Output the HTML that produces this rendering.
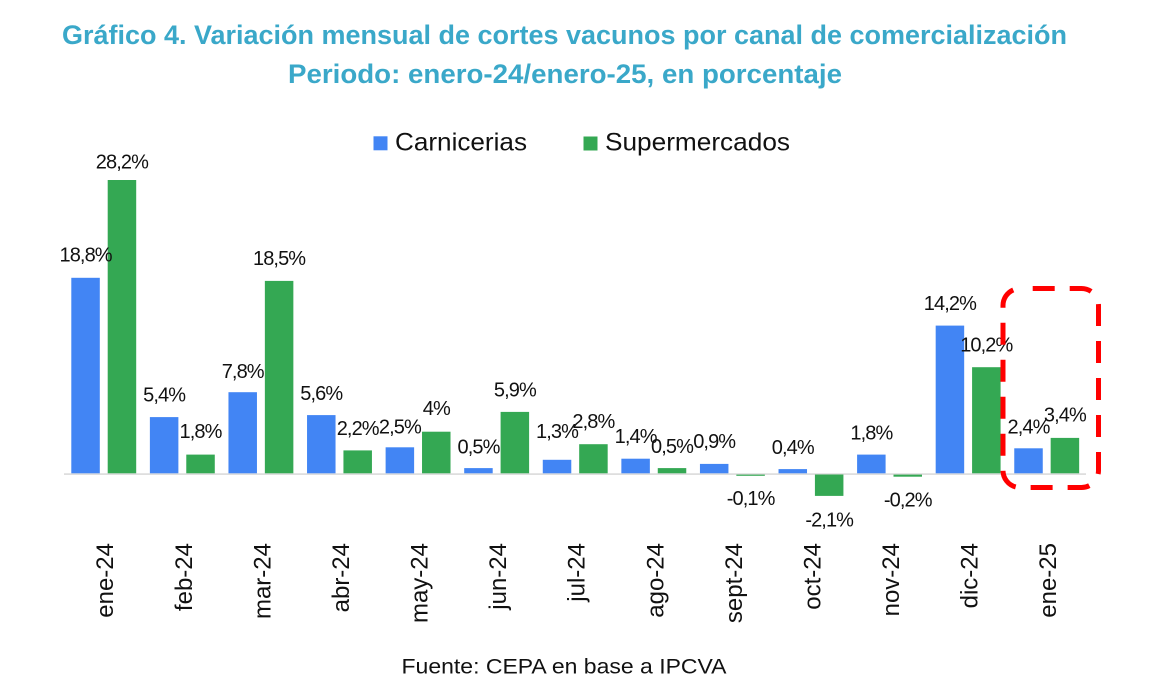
<!DOCTYPE html>
<html>
<head>
<meta charset="utf-8">
<style>
  html,body{margin:0;padding:0;background:#ffffff;}
  svg{display:block;}
  .t{font-family:"Liberation Sans",Arial,sans-serif;}
</style>
</head>
<body>
<svg width="1150" height="693" viewBox="0 0 1150 693" xmlns="http://www.w3.org/2000/svg">
  <rect x="0" y="0" width="1150" height="693" fill="#ffffff"/>

  <!-- Title -->
  <text class="t" x="62" y="44" font-size="27" font-weight="bold" fill="#3aa8c9" textLength="1005" lengthAdjust="spacingAndGlyphs">Gráfico 4. Variación mensual de cortes vacunos por canal de comercialización</text>
  <text class="t" x="288" y="83" font-size="27" font-weight="bold" fill="#3aa8c9" textLength="554" lengthAdjust="spacingAndGlyphs">Periodo: enero-24/enero-25, en porcentaje</text>

  <!-- Legend -->
  <rect x="373.5" y="136.3" width="14" height="14" fill="#4285f4"/>
  <text class="t" x="395" y="150.5" font-size="25" fill="#111" textLength="132" lengthAdjust="spacingAndGlyphs">Carnicerias</text>
  <rect x="583.5" y="136.5" width="14" height="14" fill="#34a853"/>
  <text class="t" x="605" y="150.7" font-size="25" fill="#111" textLength="185" lengthAdjust="spacingAndGlyphs">Supermercados</text>

  <!-- Axis line -->
  <rect x="64" y="473.3" width="1022" height="1.6" fill="#dadada"/>

  <!-- Bars -->
  <g>
    <!-- ene-24 cx=103.7 -->
    <rect x="71.3" y="277.8" width="28.5" height="195.5" fill="#4285f4"/>
    <rect x="107.7" y="180" width="28.5" height="293.3" fill="#34a853"/>
    <!-- feb-24 cx=182.28 -->
    <rect x="149.88" y="417.1" width="28.5" height="56.2" fill="#4285f4"/>
    <rect x="186.28" y="454.6" width="28.5" height="18.7" fill="#34a853"/>
    <!-- mar-24 cx=260.86 -->
    <rect x="228.46" y="392.2" width="28.5" height="81.1" fill="#4285f4"/>
    <rect x="264.86" y="280.9" width="28.5" height="192.4" fill="#34a853"/>
    <!-- abr-24 cx=339.44 -->
    <rect x="307.04" y="415.1" width="28.5" height="58.2" fill="#4285f4"/>
    <rect x="343.44" y="450.4" width="28.5" height="22.9" fill="#34a853"/>
    <!-- may-24 cx=418.02 -->
    <rect x="385.62" y="447.3" width="28.5" height="26" fill="#4285f4"/>
    <rect x="422.02" y="431.7" width="28.5" height="41.6" fill="#34a853"/>
    <!-- jun-24 cx=496.6 -->
    <rect x="464.2" y="468.1" width="28.5" height="5.2" fill="#4285f4"/>
    <rect x="500.6" y="411.9" width="28.5" height="61.4" fill="#34a853"/>
    <!-- jul-24 cx=575.18 -->
    <rect x="542.78" y="459.8" width="28.5" height="13.5" fill="#4285f4"/>
    <rect x="579.18" y="444.2" width="28.5" height="29.1" fill="#34a853"/>
    <!-- ago-24 cx=653.76 -->
    <rect x="621.36" y="458.7" width="28.5" height="14.6" fill="#4285f4"/>
    <rect x="657.76" y="468.1" width="28.5" height="5.2" fill="#34a853"/>
    <!-- sept-24 cx=732.34 -->
    <rect x="699.94" y="463.9" width="28.5" height="9.4" fill="#4285f4"/>
    <rect x="736.34" y="474.6" width="28.5" height="1.2" fill="#34a853"/>
    <!-- oct-24 cx=810.92 -->
    <rect x="778.52" y="469.1" width="28.5" height="4.2" fill="#4285f4"/>
    <rect x="814.92" y="474.5" width="28.5" height="21.4" fill="#34a853"/>
    <!-- nov-24 cx=889.5 -->
    <rect x="857.1" y="454.6" width="28.5" height="18.7" fill="#4285f4"/>
    <rect x="893.5" y="474.6" width="28.5" height="2.1" fill="#34a853"/>
    <!-- dic-24 cx=968.08 -->
    <rect x="935.68" y="325.6" width="28.5" height="147.7" fill="#4285f4"/>
    <rect x="972.08" y="367.2" width="28.5" height="106.1" fill="#34a853"/>
    <!-- ene-25 cx=1046.66 -->
    <rect x="1014.26" y="448.3" width="28.5" height="25" fill="#4285f4"/>
    <rect x="1050.66" y="437.9" width="28.5" height="35.4" fill="#34a853"/>
  </g>

  <!-- Data labels -->
  <g class="t" font-size="20" fill="#111" text-anchor="middle" letter-spacing="-0.9">
    <text x="85.6" y="261.7">18,8%</text>
    <text x="121.9" y="168.3">28,2%</text>
    <text x="164.1" y="401.7">5,4%</text>
    <text x="200.5" y="438">1,8%</text>
    <text x="242.7" y="378">7,8%</text>
    <text x="279.1" y="265">18,5%</text>
    <text x="321.3" y="400">5,6%</text>
    <text x="357.7" y="435">2,2%</text>
    <text x="399.9" y="433.3">2,5%</text>
    <text x="436.3" y="415">4%</text>
    <text x="478.5" y="453.3">0,5%</text>
    <text x="514.9" y="396.7">5,9%</text>
    <text x="557.0" y="438">1,3%</text>
    <text x="593.4" y="428">2,8%</text>
    <text x="635.6" y="443">1,4%</text>
    <text x="672.0" y="453">0,5%</text>
    <text x="714.2" y="448">0,9%</text>
    <text x="750.6" y="505">-0,1%</text>
    <text x="792.8" y="454">0,4%</text>
    <text x="829.2" y="526.7">-2,1%</text>
    <text x="871.4" y="439.3">1,8%</text>
    <text x="907.8" y="506.7">-0,2%</text>
    <text x="949.9" y="310">14,2%</text>
    <text x="986.3" y="351.7">10,2%</text>
    <text x="1028.5" y="433.3">2,4%</text>
    <text x="1064.9" y="421.7">3,4%</text>
  </g>

  <!-- X axis labels -->
  <g class="t" font-size="24" fill="#111" text-anchor="end">
    <text transform="translate(113.2,543) rotate(-90)">ene-24</text>
    <text transform="translate(191.8,543) rotate(-90)">feb-24</text>
    <text transform="translate(270.4,543) rotate(-90)">mar-24</text>
    <text transform="translate(348.9,543) rotate(-90)">abr-24</text>
    <text transform="translate(427.5,543) rotate(-90)">may-24</text>
    <text transform="translate(506.1,543) rotate(-90)">jun-24</text>
    <text transform="translate(584.7,543) rotate(-90)">jul-24</text>
    <text transform="translate(663.3,543) rotate(-90)">ago-24</text>
    <text transform="translate(741.8,543) rotate(-90)">sept-24</text>
    <text transform="translate(820.4,543) rotate(-90)">oct-24</text>
    <text transform="translate(899.0,543) rotate(-90)">nov-24</text>
    <text transform="translate(977.6,543) rotate(-90)">dic-24</text>
    <text transform="translate(1056.2,543) rotate(-90)">ene-25</text>
  </g>

  <!-- Red dashed highlight -->
  <rect x="1003" y="288.5" width="95.5" height="199" rx="17" ry="17" fill="none" stroke="#ff0000" stroke-width="5" stroke-dasharray="22 15" stroke-dashoffset="24.3"/>

  <!-- Footer -->
  <text class="t" x="401.5" y="673.3" font-size="21" fill="#111" textLength="325" lengthAdjust="spacingAndGlyphs">Fuente: CEPA en base a IPCVA</text>
</svg>
</body>
</html>
